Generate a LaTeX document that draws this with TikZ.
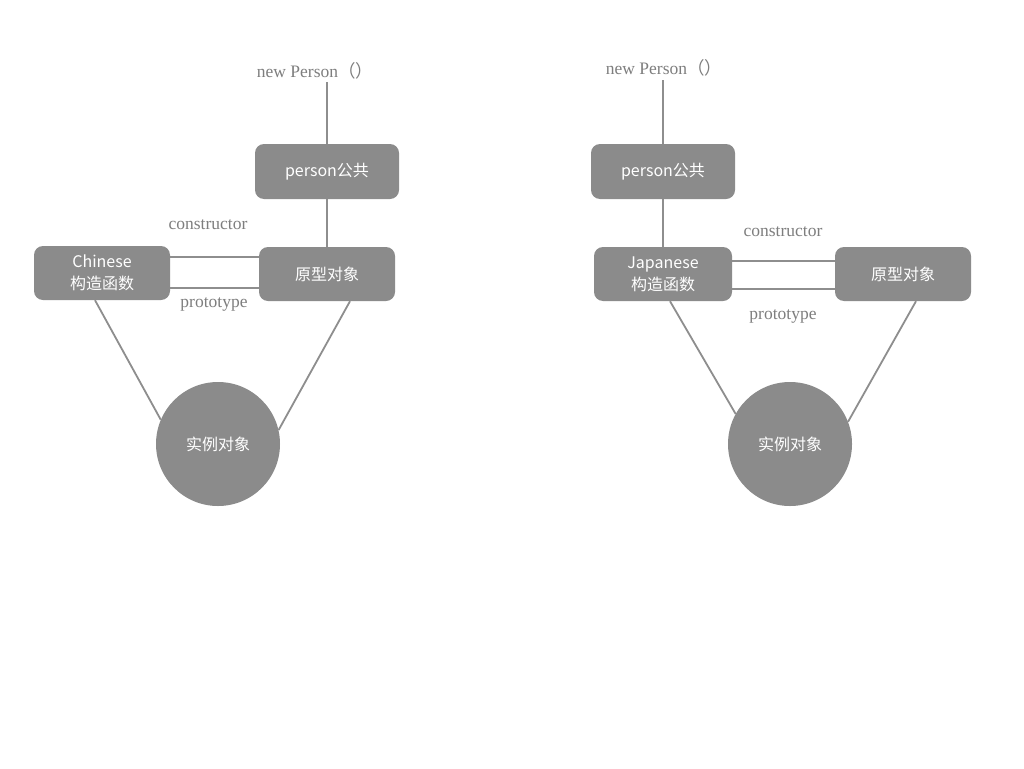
\documentclass[tikz,border=0pt]{standalone}
\usepackage{fontspec}
\setmainfont{Liberation Serif}
\newfontfamily\cjk{Noto Sans CJK SC}
\definecolor{boxgray}{HTML}{8B8B8B}
\definecolor{linegray}{HTML}{8E8E8E}
\definecolor{labgray}{HTML}{7E7E7E}
\begin{document}
\begin{tikzpicture}[x=1pt,y=-1pt,
  box/.style={fill=boxgray, rounded corners=9pt, text=white, align=center,
    font=\cjk\fontsize{16}{22}\selectfont, inner sep=0pt},
  inst/.style={circle, fill=boxgray, text=white, minimum size=124pt, inner sep=0pt,
    font=\cjk\fontsize{16}{18}\selectfont},
  conn/.style={draw=linegray, line width=1.8pt},
  lab/.style={text=labgray, font=\fontsize{17.5}{20}\selectfont, inner sep=0pt}
]
\useasboundingbox (0,0) rectangle (1024,768);
\fill[white] (0,0) rectangle (1024,768);

% ---------- left diagram ----------
\node[lab] (newL) at (315,71) {new Person{\cjk（）}};
\coordinate (newLb) at (327,82);
\node[box, minimum width=144pt, minimum height=55pt] (personL) at (327,171.5) {person公共};
\node[box, minimum width=136pt, minimum height=54pt] (chin) at (102,273) {Chinese\\构造函数};
\node[box, minimum width=136pt, minimum height=54pt] (protoL) at (327,274) {原型对象};
\node[inst] (instL) at (218,444) {实例对象};
\node[lab] (consL) at (208,225) {constructor};
\node[lab] (ptL) at (214,304) {prototype};

\draw[conn] (newLb) -- (personL.north);
\draw[conn] (personL.south) -- (protoL.north);
\draw[conn] ([yshift=16pt]chin.east) -- ([yshift=16pt]chin.east -| protoL.west);
\draw[conn] ([yshift=-15pt]chin.east) -- ([yshift=-15pt]chin.east -| protoL.west);
\draw[conn] ([xshift=-7pt]chin.south) -- (instL.157);
\draw[conn] ([xshift=23pt]protoL.south) -- (instL.13);

% ---------- right diagram ----------
\node[lab] (newR) at (664,68) {new Person{\cjk（）}};
\coordinate (newRb) at (663,80);
\node[box, minimum width=144pt, minimum height=55pt] (personR) at (663,171.5) {person公共};
\node[box, minimum width=138pt, minimum height=54pt] (jap) at (663,274) {Japanese\\构造函数};
\node[box, minimum width=136pt, minimum height=54pt] (protoR) at (903,274) {原型对象};
\node[inst] (instR) at (790,444) {实例对象};
\node[lab] (consR) at (783,232) {constructor};
\node[lab] (ptR) at (783,316) {prototype};

\draw[conn] (newRb) -- (personR.north);
\draw[conn] (personR.south) -- (jap.north);
\draw[conn] ([yshift=13pt]jap.east) -- ([yshift=13pt]jap.east -| protoR.west);
\draw[conn] ([yshift=-15pt]jap.east) -- ([yshift=-15pt]jap.east -| protoR.west);
\draw[conn] ([xshift=7pt]jap.south) -- (instR.151);
\draw[conn] ([xshift=13pt]protoR.south) -- (instR.21);
\end{tikzpicture}
\end{document}
